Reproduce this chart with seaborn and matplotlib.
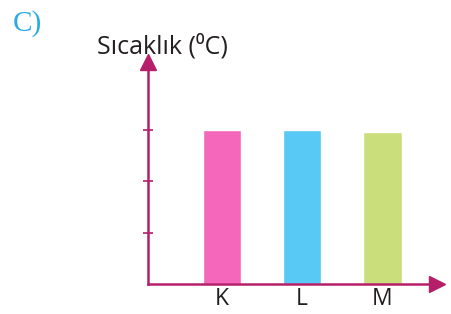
import matplotlib
matplotlib.use("Agg")
import matplotlib.pyplot as plt
import pandas as pd
import seaborn as sns

CATEGORIES = ["K", "L", "M"]
TEMPERATURES = [3.0, 3.0, 2.96]
BAR_COLORS = ["#F467BA", "#58C8F4", "#CADF7C"]
Y_TICKS = [1, 2, 3]

AXIS_COLOR = "#B51F6A"
TEXT_COLOR = "#231F20"


def main() -> None:
    sns.set_style("white")
    plt.rcParams["font.family"] = ["Open Sans", "DejaVu Sans"]

    data = pd.DataFrame({"item": CATEGORIES, "temp": TEMPERATURES})

    fig = plt.figure(figsize=(4.51, 3.14), dpi=100)
    ax = fig.add_axes([148 / 451, 30 / 314, 289 / 451, 222 / 314])

    sns.barplot(
        data=data,
        x="item",
        y="temp",
        hue="item",
        palette=BAR_COLORS,
        legend=False,
        width=0.48,
        saturation=1,
        ax=ax,
    )
    ax.set_xlim(-0.92, 2.68)
    ax.set_ylim(0, 4.33)

    for side in ["top", "right"]:
        ax.spines[side].set_visible(False)
    for side in ["left", "bottom"]:
        ax.spines[side].set_color(AXIS_COLOR)
        ax.spines[side].set_linewidth(1.8)

    ax.plot(1, 0, ">", ms=11, color=AXIS_COLOR, transform=ax.transAxes, clip_on=False)
    ax.plot(0, 1, "^", ms=11, color=AXIS_COLOR, transform=ax.transAxes, clip_on=False)

    ax.set_yticks(Y_TICKS)
    ax.set_yticklabels([])
    ax.tick_params(axis="y", direction="inout", length=7, width=1.2, colors=AXIS_COLOR, left=True)
    ax.tick_params(axis="x", length=0, labelsize=16.5, labelcolor=TEXT_COLOR, pad=2)
    ax.set_xlabel("")
    ax.set_ylabel("")

    fig.text(97 / 451, 1 - 53 / 314, "Sıcaklık (⁰C)", fontsize=18, color=TEXT_COLOR)
    fig.text(13 / 451, 1 - 31 / 314, "C)", fontsize=21, color="#29ABE2",
             family=["Liberation Serif", "DejaVu Serif"])

    fig.savefig("out.png", dpi=100)
    plt.close(fig)


if __name__ == "__main__":
    main()
